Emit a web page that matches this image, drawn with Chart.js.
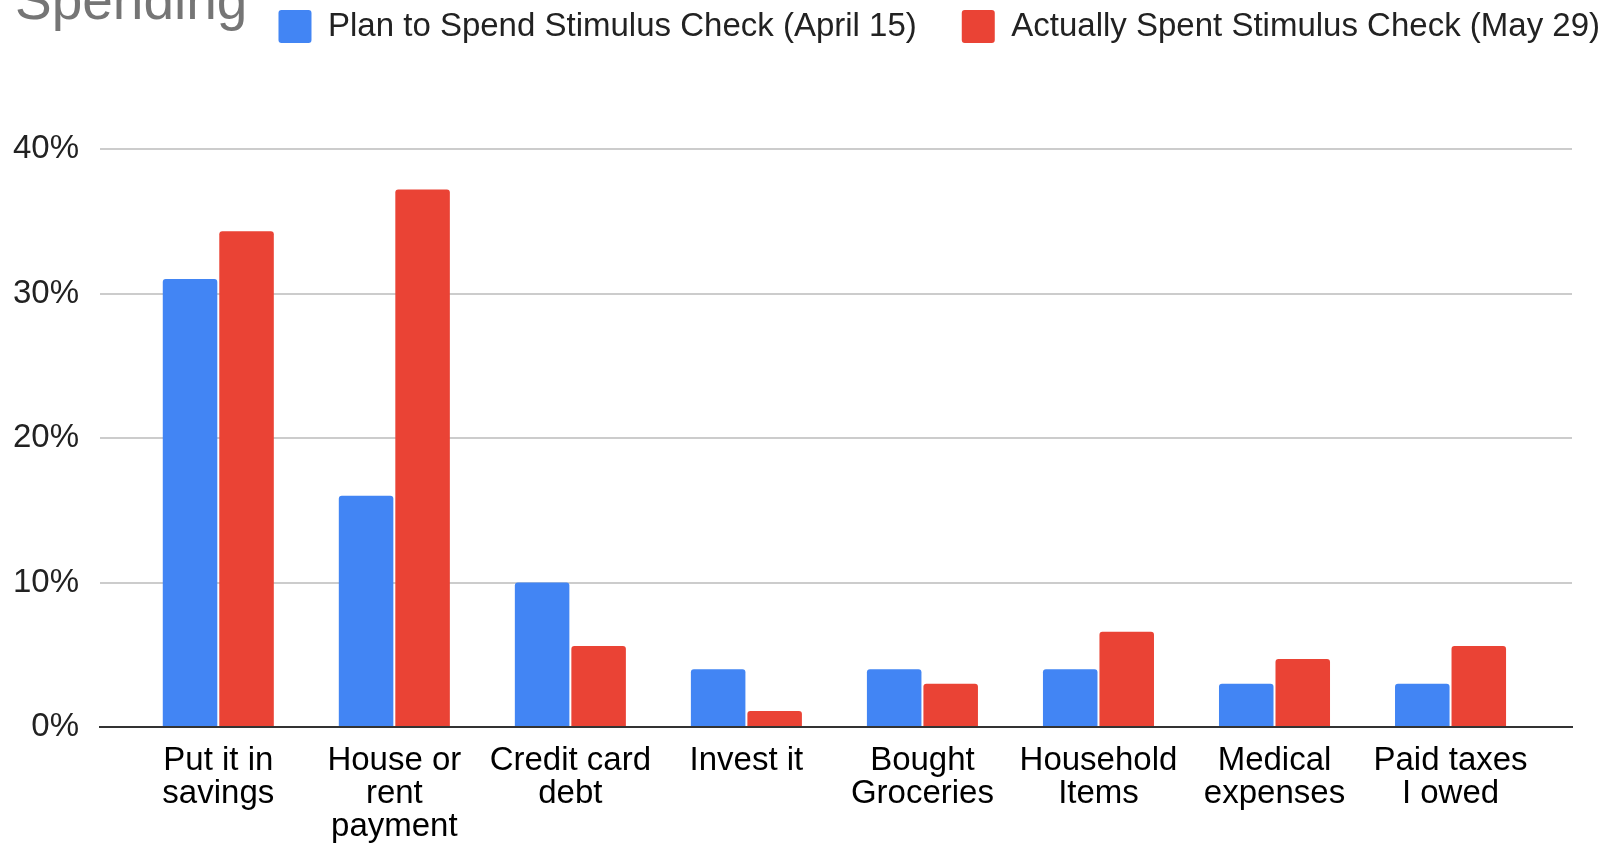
<!DOCTYPE html>
<html>
<head>
<meta charset="utf-8">
<script src="https://cdn.jsdelivr.net/npm/chart.js@4.4.1/dist/chart.umd.min.js"></script>
<style>
  html, body { margin: 0; padding: 0; background: #fff; overflow: hidden; }
  #wrap { position: relative; width: 1610px; height: 843px; overflow: hidden; }
  #box { position: absolute; left: 0; top: -35px; width: 1645px; height: 878px; }
</style>
</head>
<body>
<div id="wrap"><div id="box"><canvas id="spendChart"></canvas></div></div>
<script>
const categories = [
  ["Put it in", "savings"],
  ["House or", "rent", "payment"],
  ["Credit card", "debt"],
  ["Invest it"],
  ["Bought", "Groceries"],
  ["Household", "Items"],
  ["Medical", "expenses"],
  ["Paid taxes", "I owed"]
];
const planned = [31, 16, 10, 4, 4, 4, 3, 3];
const actual = [34.3, 37.2, 5.6, 1.1, 3, 6.6, 4.7, 5.6];
const seriesNames = ["Plan to Spend Stimulus Check (April 15)", "Actually Spent Stimulus Check (May 29)"];
const yTicks = [0, 10, 20, 30, 40];

const FONT = "'Liberation Sans', Arial, sans-serif";

// more room under the legend
const legendGap = {
  id: "legendGap",
  beforeInit(chart) {
    const fit = chart.legend.fit;
    chart.legend.fit = function () {
      fit.call(this);
      this.height += 96;
    };
  }
};

// title is cut by the top edge, like the screenshot
const cutTitle = {
  id: "cutTitle",
  afterDraw(chart) {
    const ctx = chart.ctx;
    ctx.save();
    ctx.font = "55px " + FONT;
    ctx.fillStyle = "#757575";
    ctx.textBaseline = "alphabetic";
    ctx.textAlign = "left";
    ctx.fillText("Spending", 15, 53.5);
    ctx.restore();
  }
};

const toPoints = arr => arr.map((v, i) => ({ x: i, y: v }));

new Chart(document.getElementById("spendChart"), {
  type: "bar",
  data: {
    datasets: [{
      label: seriesNames[0],
      data: toPoints(planned),
      backgroundColor: "#4285F4",
      borderRadius: 3,
      borderSkipped: "start"
    }, {
      label: seriesNames[1],
      data: toPoints(actual),
      backgroundColor: "#EA4335",
      borderRadius: 3,
      borderSkipped: "start"
    }]
  },
  options: {
    responsive: true,
    maintainAspectRatio: false,
    animation: false,
    barPercentage: 0.965,
    categoryPercentage: 0.642,
    layout: { padding: 0 },
    plugins: {
      legend: {
        position: "top",
        align: "end",
        labels: {
          boxWidth: 33,
          boxHeight: 33,
          padding: 45,
          useBorderRadius: true,
          borderRadius: 3,
          color: "#222",
          font: { family: FONT, size: 33 }
        }
      },
      tooltip: { enabled: false }
    },
    scales: {
      x: {
        type: "linear",
        offset: false,
        min: -0.672,
        max: 7.69,
        grid: { display: false, offset: false },
        border: { display: true, color: "#333", width: 2 },
        ticks: {
          stepSize: 1,
          includeBounds: false,
          autoSkip: false,
          maxRotation: 0,
          padding: 9,
          color: "#000",
          font: { family: FONT, size: 33, lineHeight: 1.0 },
          callback: v => categories[v] ?? ""
        },
        afterFit: s => { s.height = 116; }
      },
      y: {
        min: 0,
        max: 40,
        grid: {
          drawTicks: false,
          lineWidth: 2,
          color: c => c.tick && c.tick.value === 0 ? "#333" : "#cccccc"
        },
        border: { display: false },
        afterBuildTicks: s => { s.ticks = yTicks.map(v => ({ value: v })); },
        ticks: {
          padding: 21,
          color: "#222",
          font: { family: FONT, size: 33 },
          callback: v => v + "%"
        },
        afterFit: s => { s.width = 100; }
      },
      y2: {
        position: "right",
        grid: { display: false },
        border: { display: false },
        ticks: { display: false },
        afterFit: s => { s.width = 73; }
      }
    }
  },
  plugins: [legendGap, cutTitle]
});
</script>
</body>
</html>
